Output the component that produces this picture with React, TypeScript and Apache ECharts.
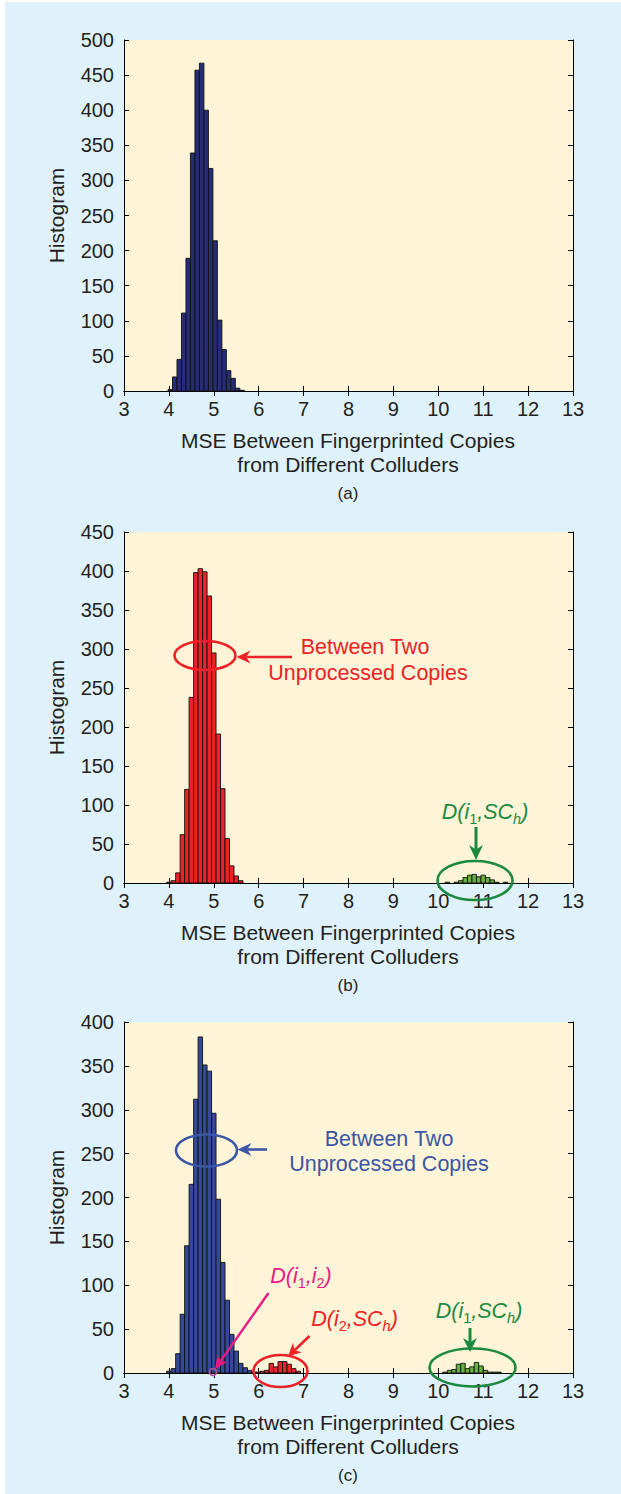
import React, { useEffect, useRef } from "react";
import * as echarts from "echarts";

const W = 621;
const H = 1494;
const FONT = "'Liberation Sans', Arial, Helvetica, sans-serif";
const BIN = 0.1;

// Panel (a): MSE histogram, all pairs
const centersA = [4.03, 4.13, 4.23, 4.33, 4.43, 4.53, 4.63, 4.73, 4.83, 4.93, 5.03, 5.13, 5.23, 5.33, 5.43, 5.53, 5.63];
const countsA = [2, 20, 45, 111, 189, 339, 457, 467, 400, 317, 214, 101, 59, 29, 18, 4, 1];

// Panel (b): unprocessed pairs (red) and D(i1,SCh) (green)
const centersB = [4.0, 4.1, 4.2, 4.3, 4.4, 4.5, 4.6, 4.7, 4.8, 4.9, 5.0, 5.1, 5.2, 5.3, 5.4, 5.5, 5.6];
const countsB = [1, 3, 13, 62, 120, 238, 398, 403, 399, 368, 295, 191, 121, 57, 22, 9, 3];
const centersBg = [10.2, 10.4, 10.5, 10.6, 10.7, 10.8, 10.9, 11.0, 11.1, 11.2, 11.3, 11.5];
const countsBg = [1, 1, 3, 7, 10, 11, 8, 10, 7, 4, 1, 1];

// Panel (c): unprocessed pairs (blue), D(i2,SCh) (red), D(i1,SCh) (green)
const centersC = [4.0, 4.1, 4.2, 4.3, 4.4, 4.5, 4.6, 4.7, 4.8, 4.9, 5.0, 5.1, 5.2, 5.3, 5.4, 5.5, 5.6, 5.7, 5.8, 5.9];
const countsC = [2, 5, 22, 67, 145, 215, 312, 383, 351, 344, 296, 198, 126, 83, 44, 25, 11, 6, 3, 1];
const centersCr = [5.98, 6.08, 6.18, 6.28, 6.38, 6.48, 6.58, 6.68, 6.78, 6.88];
const countsCr = [1, 2, 3, 11, 7, 13, 13, 10, 5, 2];
const centersCg = [10.15, 10.25, 10.35, 10.45, 10.55, 10.65, 10.75, 10.85, 10.95, 11.05, 11.15, 11.25, 11.35];
const countsCg = [1, 3, 4, 10, 11, 5, 7, 12, 8, 3, 1, 1, 1];

const X_MIN = 3;
const X_MAX = 13;
const Y_MAX = [500, 450, 400];
const Y_STEP = 50;

const PANEL_TOPS = [40, 532, 1022];
const PANEL_LEFT = 124;
const PANEL_W = 449;
const PANEL_H = 351;

const CAPTION_1 = "MSE Between Fingerprinted Copies";
const CAPTION_2 = "from Different Colluders";
const PANEL_TAGS = ["(a)", "(b)", "(c)"];

const C_TEXT = "#231f20";
const C_BG = "#dff1fa";
const C_PLOT = "#fef5d8";
const C_NAVY = "#262c76";
const C_BLUE = "#34499a";
const C_RED = "#ec2227";
const C_GREEN_BAR = "#66b23c";
const C_GREEN = "#1b8a3e";
const C_BLUE_NOTE = "#3b56a4";
const C_PINK = "#ec1a83";
const C_PURPLE = "#b2519c";

function histSeries(panel: number, centers: number[], counts: number[], fill: string) {
  return {
    type: "custom",
    xAxisIndex: panel * 2,
    yAxisIndex: panel * 2,
    data: centers.map((c, i) => [c, counts[i]]),
    encode: { x: 0, y: 1 },
    silent: true,
    z: 3,
    renderItem: (_p: any, api: any) => {
      const c = api.value(0);
      const v = api.value(1);
      const p0 = api.coord([c - BIN / 2, v]);
      const p1 = api.coord([c + BIN / 2, 0]);
      return {
        type: "rect",
        shape: { x: p0[0], y: p0[1], width: p1[0] - p0[0], height: p1[1] - p0[1] },
        style: { fill, stroke: "#111", lineWidth: 0.9 },
      };
    },
  };
}

let measureCtx: CanvasRenderingContext2D | null = null;
function measure(text: string, size: number, italic: boolean) {
  if (!measureCtx) measureCtx = document.createElement("canvas").getContext("2d");
  measureCtx!.font = `${italic ? "italic " : ""}${size}px ${FONT}`;
  return measureCtx!.measureText(text).width;
}

type Seg = { t: string; sub?: boolean; italic?: boolean };

// Text with subscripts, laid out piece by piece and centred on cx
function richLabel(cx: number, cy: number, segs: Seg[], color: string) {
  const big = 21.5;
  const small = 14.5;
  const widths = segs.map((s) => measure(s.t, s.sub ? small : big, !!s.italic));
  const total = widths.reduce((a, b) => a + b, 0);
  let x = cx - total / 2;
  const els: any[] = [];
  segs.forEach((s, i) => {
    els.push({
      type: "text",
      x,
      y: s.sub ? cy + 7 : cy,
      z: 120,
      style: {
        text: s.t,
        fontSize: s.sub ? small : big,
        fontFamily: FONT,
        fontStyle: s.italic ? "italic" : "normal",
        fill: color,
        textAlign: "left",
        textVerticalAlign: "middle",
      },
    });
    x += widths[i];
  });
  return els;
}

function arrow(x1: number, y1: number, x2: number, y2: number, color: string, lw: number, head: number, half: number) {
  const dx = x2 - x1;
  const dy = y2 - y1;
  const len = Math.sqrt(dx * dx + dy * dy);
  const ux = dx / len;
  const uy = dy / len;
  const nx = -uy;
  const ny = ux;
  const bx = x2 - ux * head;
  const by = y2 - uy * head;
  const mx = x2 - ux * head * 0.7;
  const my = y2 - uy * head * 0.7;
  return [
    {
      type: "line",
      z: 120,
      shape: { x1, y1, x2: mx, y2: my },
      style: { stroke: color, lineWidth: lw },
    },
    {
      type: "polygon",
      z: 121,
      shape: {
        points: [
          [x2, y2],
          [bx + nx * half, by + ny * half],
          [mx, my],
          [bx - nx * half, by - ny * half],
        ],
      },
      style: { fill: color },
    },
  ];
}

function ellipse(cx: number, cy: number, rx: number, ry: number, color: string) {
  return {
    type: "ellipse",
    z: 119,
    shape: { cx, cy, rx, ry },
    style: { fill: "none", stroke: color, lineWidth: 2.6 },
  };
}

function plainText(x: number, y: number, text: string, color: string, size: number, extra: any = {}) {
  return {
    type: "text",
    x,
    y,
    z: 120,
    ...extra,
    style: {
      text,
      fontSize: size,
      fontFamily: FONT,
      fill: color,
      textAlign: "center",
      textVerticalAlign: "middle",
    },
  };
}

function buildOption() {
  const grids: any[] = [];
  const xAxes: any[] = [];
  const yAxes: any[] = [];
  const axisLine = { show: true, lineStyle: { color: "#000", width: 1 } };
  const tick = { show: true, inside: true, length: 5, lineStyle: { color: "#000", width: 1 } };

  PANEL_TOPS.forEach((top, i) => {
    grids.push({
      left: PANEL_LEFT,
      top,
      width: PANEL_W,
      height: PANEL_H,
      show: true,
      backgroundColor: C_PLOT,
      borderWidth: 0,
    });
    const xBase = {
      type: "value",
      gridIndex: i,
      min: X_MIN,
      max: X_MAX,
      interval: 1,
      axisLine,
      axisTick: tick,
      splitLine: { show: false },
    };
    xAxes.push({
      ...xBase,
      position: "bottom",
      axisLabel: { show: true, color: C_TEXT, fontSize: 20, fontFamily: FONT, margin: 8 },
    });
    xAxes.push({ ...xBase, position: "top", axisLabel: { show: false } });
    const yBase = {
      type: "value",
      gridIndex: i,
      min: 0,
      max: Y_MAX[i],
      interval: Y_STEP,
      axisLine,
      axisTick: tick,
      splitLine: { show: false },
    };
    yAxes.push({
      ...yBase,
      position: "left",
      axisLabel: { show: true, color: C_TEXT, fontSize: 20, fontFamily: FONT, margin: 10 },
    });
    yAxes.push({ ...yBase, position: "right", axisLabel: { show: false } });
  });

  const series = [
    histSeries(0, centersA, countsA, C_NAVY),
    histSeries(1, centersB, countsB, C_RED),
    histSeries(1, centersBg, countsBg, C_GREEN_BAR),
    histSeries(2, centersC, countsC, C_BLUE),
    histSeries(2, centersCr, countsCr, C_RED),
    histSeries(2, centersCg, countsCg, C_GREEN_BAR),
  ];

  const g: any[] = [];
  // white strip along the top and left edges
  g.push({ type: "rect", z: 0, shape: { x: 0, y: 0, width: 5, height: H }, style: { fill: "#fff" } });
  g.push({ type: "rect", z: 0, shape: { x: 0, y: 0, width: W, height: 2 }, style: { fill: "#fff" } });

  // captions and y titles
  PANEL_TOPS.forEach((top, i) => {
    const bottom = top + PANEL_H;
    g.push(plainText(348, bottom + 49, CAPTION_1, C_TEXT, 21));
    g.push(plainText(348, bottom + 73, CAPTION_2, C_TEXT, 21));
    g.push(plainText(348, bottom + 102, PANEL_TAGS[i], C_TEXT, 17));
    g.push(plainText(56, top + PANEL_H / 2, "Histogram", C_TEXT, 21, { rotation: Math.PI / 2 }));
  });

  // panel (b) notes
  g.push(ellipse(205, 655.5, 30.5, 14.5, C_RED));
  g.push(...arrow(292, 657, 236.5, 657, C_RED, 2.6, 14, 6.5));
  g.push(plainText(365, 647, "Between Two", C_RED, 21.5));
  g.push(plainText(368, 673, "Unprocessed Copies", C_RED, 21.5));
  g.push(
    ...richLabel(485, 812, [{ t: "D(", italic: true }, { t: "i", italic: true }, { t: "1", sub: true }, { t: ",SC", italic: true }, { t: "h", sub: true, italic: true }, { t: ")", italic: true }], C_GREEN)
  );
  g.push(...arrow(476, 827, 476, 860, C_GREEN, 3, 15, 7));
  g.push(ellipse(475, 880.5, 37.5, 19.5, C_GREEN));

  // panel (c) notes
  g.push(ellipse(206.5, 1150.5, 30.5, 16, C_BLUE_NOTE));
  g.push(...arrow(267, 1149.5, 237.5, 1149.5, C_BLUE_NOTE, 2.6, 14, 6.5));
  g.push(plainText(389, 1139, "Between Two", C_BLUE_NOTE, 21.5));
  g.push(plainText(389, 1164, "Unprocessed Copies", C_BLUE_NOTE, 21.5));

  g.push(
    ...richLabel(301, 1276, [{ t: "D(", italic: true }, { t: "i", italic: true }, { t: "1", sub: true }, { t: ",", italic: true }, { t: "i", italic: true }, { t: "2", sub: true }, { t: ")", italic: true }], C_PINK)
  );
  g.push(...arrow(268.5, 1293, 215, 1369, C_PINK, 2.4, 13, 6));
  g.push({
    type: "circle",
    z: 122,
    shape: { cx: 213, cy: 1372, r: 3.5 },
    style: { fill: "none", stroke: C_PURPLE, lineWidth: 1.6 },
  });

  g.push(
    ...richLabel(354.5, 1319, [{ t: "D(", italic: true }, { t: "i", italic: true }, { t: "2", sub: true }, { t: ",SC", italic: true }, { t: "h", sub: true, italic: true }, { t: ")", italic: true }], C_RED)
  );
  g.push(...arrow(309.5, 1336, 288, 1356.5, C_RED, 2.6, 13, 6.5));
  g.push(ellipse(280.5, 1371, 27, 16, C_RED));

  g.push(
    ...richLabel(479, 1311, [{ t: "D(", italic: true }, { t: "i", italic: true }, { t: "1", sub: true }, { t: ",SC", italic: true }, { t: "h", sub: true, italic: true }, { t: ")", italic: true }], C_GREEN)
  );
  g.push(...arrow(470, 1328, 470, 1352, C_GREEN, 3, 14, 7));
  g.push(ellipse(472.5, 1367.5, 43, 19, C_GREEN));

  return {
    animation: false,
    backgroundColor: C_BG,
    grid: grids,
    xAxis: xAxes,
    yAxis: yAxes,
    series,
    graphic: { elements: g },
  };
}

export default function App() {
  const ref = useRef<HTMLDivElement>(null);
  useEffect(() => {
    if (!ref.current) return;
    const chart = echarts.init(ref.current, undefined, { renderer: "svg", width: W, height: H });
    chart.setOption(buildOption() as any);
    return () => chart.dispose();
  }, []);
  return <div ref={ref} style={{ position: "absolute", left: 0, top: 0, width: W, height: H }} />;
}
